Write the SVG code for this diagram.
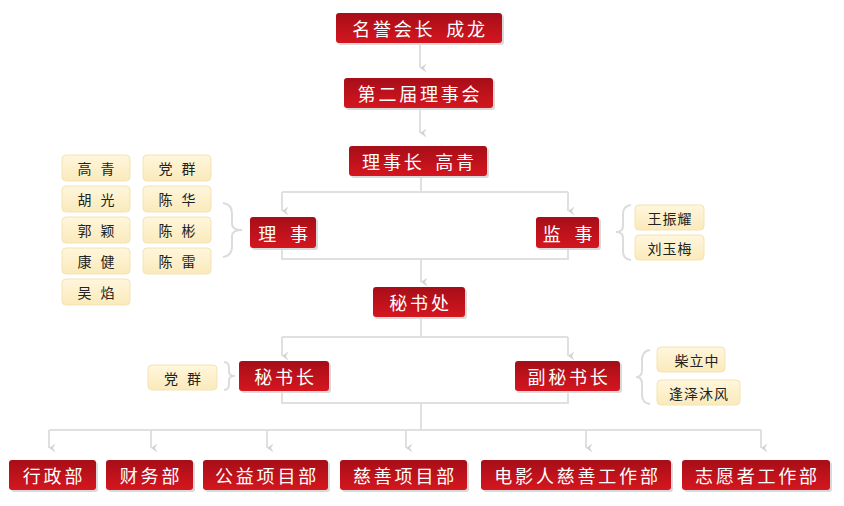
<svg xmlns="http://www.w3.org/2000/svg" width="844" height="506" viewBox="0 0 844 506">
<defs>
<linearGradient id="red" x1="0" y1="0" x2="0" y2="1">
<stop offset="0" stop-color="#a60e18"/>
<stop offset="1" stop-color="#d5161f"/>
</linearGradient>
<linearGradient id="yel" x1="0" y1="0" x2="0" y2="1">
<stop offset="0" stop-color="#fff6dc"/>
<stop offset="1" stop-color="#faeabb"/>
</linearGradient>
<marker id="arr" markerWidth="10" markerHeight="8" refX="5" refY="7" orient="auto-start-reverse" markerUnits="userSpaceOnUse" viewBox="0 0 10 8">
<path d="M0.5,0.5 L5,7 L9.5,0.5 L5,3 Z" fill="#d4d4d4"/>
</marker>
<style>
.sh{fill:#d9d9d9}
.rb{fill:url(#red)}
.yb{fill:url(#yel);stroke:#f3e3b5;stroke-width:1}
.rt{fill:#ffffff;font-family:"Noto Sans CJK SC","Noto Sans",sans-serif;font-size:18px;letter-spacing:2.8px;text-anchor:middle;dominant-baseline:central}
.yt{fill:#222222;font-family:"Noto Sans CJK SC","Noto Sans",sans-serif;font-size:14px;letter-spacing:1px;text-anchor:middle;dominant-baseline:central}
.ln{fill:none;stroke:#e0e0e0;stroke-width:2}
.ar{fill:none;stroke:#e0e0e0;stroke-width:2;marker-end:url(#arr)}
.br{fill:none;stroke:#dcdcdc;stroke-width:2}
</style>
</defs>
<rect width="844" height="506" fill="#ffffff"/>

<g id="connectors">
<path class="ar" d="M420,44 V68"/>
<path class="ar" d="M420,109 V133"/>
<path class="ln" d="M421,176 V192 M282,192 H568"/>
<path class="ar" d="M282,192 V211"/>
<path class="ar" d="M568,192 V211"/>
<path class="ln" d="M282,248 V259 H568 V248"/>
<path class="ar" d="M421,259 V282"/>
<path class="ln" d="M421,317 V337 M282,337 H568"/>
<path class="ar" d="M282,337 V356"/>
<path class="ar" d="M568,337 V356"/>
<path class="ln" d="M282,391 V403 H568 V391"/>
<path class="ln" d="M421,403 V430 M49,430 H761"/>
<path class="ar" d="M49,430 V448"/>
<path class="ar" d="M151,430 V448"/>
<path class="ar" d="M267,430 V448"/>
<path class="ar" d="M406,430 V448"/>
<path class="ar" d="M586,430 V448"/>
<path class="ar" d="M761,430 V448"/>
<path class="br" d="M223,203 Q232,204 232,214 V224 Q232,230 242,230 Q232,230 232,236 V246 Q232,256 223,257"/>
<path class="br" d="M631,205 Q623,206 623,214 V226 Q623,232 616,232 Q623,232 623,238 V251 Q623,259 631,260"/>
<path class="br" d="M224,362 Q229,362 229,368 V372 Q229,376 235,376 Q229,376 229,380 V384 Q229,390 224,390"/>
<path class="br" d="M650,350 Q642,351 642,360 V370 Q642,377 636,377 Q642,377 642,384 V395 Q642,403 650,404"/>
</g>

<g id="n-honor"><rect class="sh" x="338" y="15" width="166" height="30" rx="3"/><rect class="rb" x="336" y="13" width="166" height="30" rx="3"/><text class="rt" x="420" y="28">名誉会长 <tspan dx="4">成龙</tspan></text></g>
<g id="n-council"><rect class="sh" x="346" y="80" width="149" height="30" rx="3"/><rect class="rb" x="344" y="78" width="149" height="30" rx="3"/><text class="rt" x="420" y="93">第二届理事会</text></g>
<g id="n-chair"><rect class="sh" x="351" y="148" width="138" height="30" rx="3"/><rect class="rb" x="349" y="146" width="138" height="30" rx="3"/><text class="rt" x="419.5" y="161">理事长 <tspan dx="4">高青</tspan></text></g>
<g id="n-lishi"><rect class="sh" x="252" y="219" width="66" height="31" rx="3"/><rect class="rb" x="250" y="217" width="66" height="31" rx="3"/><text class="rt" x="284.5" y="232.5">理 <tspan dx="4">事</tspan></text></g>
<g id="n-jianshi"><rect class="sh" x="538" y="219" width="63" height="31" rx="3"/><rect class="rb" x="536" y="217" width="63" height="31" rx="3"/><text class="rt" x="569" y="232.5">监 <tspan dx="4">事</tspan></text></g>
<g id="n-mishuchu"><rect class="sh" x="375" y="289" width="92" height="30" rx="3"/><rect class="rb" x="373" y="287" width="92" height="30" rx="3"/><text class="rt" x="420.5" y="302">秘书处</text></g>
<g id="n-mishuzhang"><rect class="sh" x="241" y="363" width="90" height="30" rx="3"/><rect class="rb" x="239" y="361" width="90" height="30" rx="3"/><text class="rt" x="285.5" y="376">秘书长</text></g>
<g id="n-fumishuzhang"><rect class="sh" x="517" y="363" width="105" height="30" rx="3"/><rect class="rb" x="515" y="361" width="105" height="30" rx="3"/><text class="rt" x="569" y="376">副秘书长</text></g>

<g id="n-xingzheng"><rect class="sh" x="11" y="462" width="87" height="30" rx="3"/><rect class="rb" x="9" y="460" width="87" height="30" rx="3"/><text class="rt" x="54" y="475">行政部</text></g>
<g id="n-caiwu"><rect class="sh" x="108" y="462" width="87" height="30" rx="3"/><rect class="rb" x="106" y="460" width="87" height="30" rx="3"/><text class="rt" x="151" y="475">财务部</text></g>
<g id="n-gongyi"><rect class="sh" x="205" y="462" width="125" height="30" rx="3"/><rect class="rb" x="203" y="460" width="125" height="30" rx="3"/><text class="rt" x="267" y="475">公益项目部</text></g>
<g id="n-cishan"><rect class="sh" x="342" y="462" width="127" height="30" rx="3"/><rect class="rb" x="340" y="460" width="127" height="30" rx="3"/><text class="rt" x="405" y="475">慈善项目部</text></g>
<g id="n-dianying"><rect class="sh" x="483" y="462" width="190" height="30" rx="3"/><rect class="rb" x="481" y="460" width="190" height="30" rx="3"/><text class="rt" x="577.5" y="475">电影人慈善工作部</text></g>
<g id="n-zhiyuan"><rect class="sh" x="684" y="462" width="148" height="30" rx="3"/><rect class="rb" x="682" y="460" width="148" height="30" rx="3"/><text class="rt" x="757.5" y="475">志愿者工作部</text></g>

<g id="m-gaoqing"><rect class="yb" x="62" y="155" width="68" height="26" rx="4"/><text class="yt" x="96.5" y="168">高 <tspan dx="4">青</tspan></text></g>
<g id="m-huguang"><rect class="yb" x="62" y="186" width="68" height="26" rx="4"/><text class="yt" x="96.5" y="199">胡 <tspan dx="4">光</tspan></text></g>
<g id="m-guoying"><rect class="yb" x="62" y="217" width="68" height="26" rx="4"/><text class="yt" x="96.5" y="230">郭 <tspan dx="4">颖</tspan></text></g>
<g id="m-kangjian"><rect class="yb" x="62" y="248" width="68" height="26" rx="4"/><text class="yt" x="96.5" y="261">康 <tspan dx="4">健</tspan></text></g>
<g id="m-wuyan"><rect class="yb" x="62" y="279" width="68" height="26" rx="4"/><text class="yt" x="96.5" y="292">吴 <tspan dx="4">焰</tspan></text></g>
<g id="m-dangqun"><rect class="yb" x="143" y="155" width="68" height="26" rx="4"/><text class="yt" x="177.5" y="168">党 <tspan dx="4">群</tspan></text></g>
<g id="m-chenhua"><rect class="yb" x="143" y="186" width="68" height="26" rx="4"/><text class="yt" x="177.5" y="199">陈 <tspan dx="4">华</tspan></text></g>
<g id="m-chenbin"><rect class="yb" x="143" y="217" width="68" height="26" rx="4"/><text class="yt" x="177.5" y="230">陈 <tspan dx="4">彬</tspan></text></g>
<g id="m-chenlei"><rect class="yb" x="143" y="248" width="68" height="26" rx="4"/><text class="yt" x="177.5" y="261">陈 <tspan dx="4">雷</tspan></text></g>
<g id="m-wangzhenyao"><rect class="yb" x="635" y="205" width="69" height="25" rx="4"/><text class="yt" x="670" y="217.5">王振耀</text></g>
<g id="m-liuyumei"><rect class="yb" x="635" y="235" width="69" height="25" rx="4"/><text class="yt" x="670" y="247.5">刘玉梅</text></g>
<g id="m-dangqun2"><rect class="yb" x="148" y="365" width="69" height="25" rx="4"/><text class="yt" x="183" y="377.5">党 <tspan dx="4">群</tspan></text></g>
<g id="m-chailizhong"><rect class="yb" x="657" y="347" width="68" height="25" rx="4"/><text class="yt" x="697" y="359.5">柴立中</text></g>
<g id="m-fengze"><rect class="yb" x="657" y="380" width="83" height="25" rx="4"/><text class="yt" x="699" y="392.5">逢泽沐风</text></g>
</svg>
